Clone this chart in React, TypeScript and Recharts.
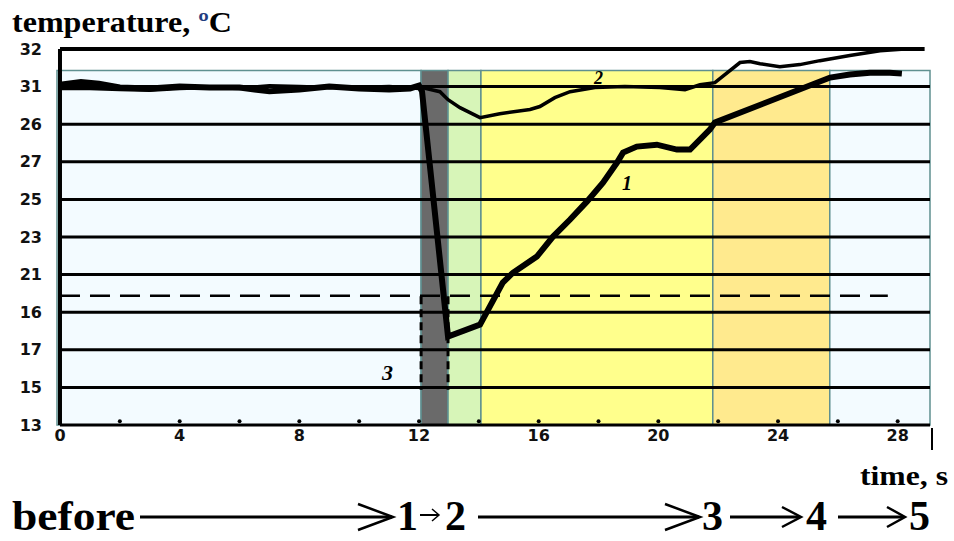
import React from 'react';
import { LineChart, Line, XAxis, YAxis, ReferenceArea, ReferenceLine, ReferenceDot } from 'recharts';

// ---- data ----
const curve1Time = [0, 0.7, 1.3, 2, 3, 4, 5, 6, 7, 8, 9, 10, 11, 11.7, 12.0, 12.1, 12.97, 14.04, 14.8, 15.14, 15.94, 16.48, 17.05, 17.61, 18.15, 18.62, 18.82, 19.28, 19.95, 20.62, 21.06, 21.72, 21.89, 25.74, 26.4, 27.07, 27.74, 28.14];
const curve1Temp = [31.1, 31.25, 31.15, 30.95, 30.9, 31.0, 30.95, 30.95, 30.75, 30.85, 31.0, 30.9, 30.85, 30.9, 31.05, 30.75, 17.7, 18.34, 20.57, 21.1, 21.96, 23.02, 23.93, 24.88, 25.89, 26.96, 27.49, 27.81, 27.91, 27.65, 27.65, 28.71, 29.09, 31.48, 31.64, 31.74, 31.74, 31.69];

const curve2Time = [0, 1, 2, 3, 4, 5, 6, 7, 8, 9, 10, 11, 12.0, 12.1, 12.7, 12.97, 13.37, 14.04, 14.7, 15.71, 16.04, 16.54, 17.05, 17.88, 18.88, 20.05, 20.89, 21.39, 21.89, 22.73, 23.06, 23.4, 24.06, 24.73, 25.4, 26.4, 27.41, 28.24];
const curve2Temp = [30.9, 30.9, 30.85, 30.8, 30.9, 30.95, 30.9, 31.05, 31.0, 30.95, 30.95, 31.0, 30.9, 30.95, 30.73, 30.3, 29.88, 29.35, 29.56, 29.78, 29.94, 30.41, 30.73, 30.95, 31.0, 30.95, 30.84, 31.1, 31.21, 32.28, 32.33, 32.22, 32.06, 32.17, 32.38, 32.65, 32.91, 33.0];

const dashedLevel = 19.88;
const dashedEnd = 27.67;
const curve3X = [12.07, 12.97];
const curve3Y = [19.85, 14.88];

const gridLevels = [15, 17, 19, 21, 23, 25, 27, 29, 31];
const topLevel = 33;
const topLineEnd = 28.9;

const yTicks = [13, 15, 17, 19, 21, 23, 25, 27, 29, 31, 33];
const yTickLabels = ['13', '15', '17', '16', '21', '23', '25', '27', '26', '31', '32'];
const xTicks = [0, 4, 8, 12, 16, 20, 24, 28];
const xDotTicks = [2, 4, 6, 8, 10, 12, 14, 16, 18, 20, 22, 24, 26, 28];

// stage bands: [start, end]
const stageBounds = [12.07, 12.97, 14.07, 21.82, 25.73, 29.08];
const stageColors = ['#6a6a6a', '#d7f5b8', '#ffff8c', '#ffea8e', '#f3fbff'];
const boxTop = 31.85;
const xMin = -0.1;
const xMax = 29.08;

const zip = (t: number[], v: number[]) => t.map((x, i) => ({ t: x, v: v[i] }));
const curve1 = zip(curve1Time, curve1Temp);
const curve2 = zip(curve2Time, curve2Temp);

const teal = '#5f9090';

export default function App() {
  const serif = '"Liberation Serif", "Times New Roman", serif';
  const tickFont = { fill: '#111', fontSize: 16, fontWeight: 700, fontFamily: '"DejaVu Sans", sans-serif' };
  return (
    <div style={{ position: 'absolute', left: 0, top: 0, width: 954, height: 541, background: '#fff' }}>
      <LineChart width={954} height={541} margin={{ top: 49, right: 24, bottom: 86, left: 10 }}>
        <XAxis
          type="number"
          dataKey="t"
          domain={[xMin, xMax]}
          ticks={xTicks}
          allowDataOverflow
          axisLine={false}
          tickLine={false}
          tickSize={0}
          tickMargin={5}
          height={30}
          tick={tickFont}
        />
        <YAxis
          type="number"
          dataKey="v"
          domain={[13, 33]}
          ticks={yTicks}
          allowDataOverflow
          axisLine={false}
          tickLine={false}
          tickSize={0}
          tickMargin={15}
          width={47}
          tickFormatter={(v: number) => yTickLabels[yTicks.indexOf(v)] ?? String(v)}
          tick={tickFont}
        />
        <ReferenceArea x1={xMin} x2={stageBounds[0]} y1={13} y2={boxTop} fill="#f3fbff" fillOpacity={1} stroke={teal} strokeWidth={1.5} />
        {stageColors.map((c, i) => (
          <ReferenceArea key={'s' + i} x1={stageBounds[i]} x2={stageBounds[i + 1]} y1={13} y2={boxTop} fill={c} fillOpacity={1} stroke={teal} strokeWidth={1.5} />
        ))}
        {gridLevels.map((g) => (
          <ReferenceLine key={'g' + g} segment={[{ x: 0, y: g }, { x: xMax, y: g }]} stroke="#000" strokeWidth={3} />
        ))}
        <ReferenceLine segment={[{ x: 0, y: topLevel }, { x: topLineEnd, y: topLevel }]} stroke="#000" strokeWidth={4} />
        <ReferenceLine segment={[{ x: 0, y: 13 }, { x: 0, y: 33 }]} stroke="#000" strokeWidth={4} />
        <ReferenceLine segment={[{ x: 0, y: 13 }, { x: xMax, y: 13 }]} stroke="#000" strokeWidth={3} />
        <ReferenceLine segment={[{ x: 0, y: dashedLevel }, { x: dashedEnd, y: dashedLevel }]} stroke="#000" strokeWidth={2.5} strokeDasharray="20 10" />
        {curve3X.map((x) => (
          <ReferenceLine key={'c3' + x} segment={[{ x, y: curve3Y[0] }, { x, y: curve3Y[1] }]} stroke="#000" strokeWidth={3} strokeDasharray="8 5" />
        ))}
        {xDotTicks.map((t) => (
          <ReferenceDot key={'d' + t} x={t} y={13.2} r={2} fill="#000" stroke="none" />
        ))}
        <Line data={curve2} dataKey="v" type="linear" stroke="#000" strokeWidth={3.5} dot={false} isAnimationActive={false} />
        <Line data={curve1} dataKey="v" type="linear" stroke="#000" strokeWidth={6} dot={false} isAnimationActive={false} />
      </LineChart>
      <svg width={954} height={541} style={{ position: 'absolute', left: 0, top: 0, pointerEvents: 'none' }}>
        <text x={12} y={32} fontFamily={serif} fontWeight={700} fontSize={29} fill="#000" textLength={220} lengthAdjust="spacingAndGlyphs">
          temperature, <tspan fill="#1f3d80">º</tspan>C
        </text>
        <text x={860} y={485} fontFamily={serif} fontWeight={700} fontSize={28} fill="#000" textLength={88} lengthAdjust="spacingAndGlyphs">
          time, s
        </text>
        <line x1={932} y1={428} x2={932} y2={450} stroke="#000" strokeWidth={2} />
        <text x={622} y={190} fontFamily={serif} fontStyle="italic" fontWeight={700} fontSize={20} fill="#000">1</text>
        <text x={594} y={84} fontFamily={serif} fontStyle="italic" fontWeight={700} fontSize={18} fill="#000">2</text>
        <text x={382} y={380} fontFamily={serif} fontStyle="italic" fontWeight={700} fontSize={22} fill="#000">3</text>

        <text x={12} y={530} fontFamily={serif} fontWeight={700} fontSize={42} fill="#000" textLength={123} lengthAdjust="spacingAndGlyphs">before</text>
        <line x1={140} y1={517} x2={392} y2={517} stroke="#000" strokeWidth={3} />
        <polyline points="358,504 393,517 358,530" fill="none" stroke="#000" strokeWidth={2.5} />
        <text x={397} y={530} fontFamily={serif} fontWeight={700} fontSize={42} fill="#000">1</text>
        <line x1={420} y1={515} x2={438} y2={515} stroke="#000" strokeWidth={2} />
        <polyline points="432,509 439,515 432,521" fill="none" stroke="#000" strokeWidth={1.5} />
        <text x={445} y={530} fontFamily={serif} fontWeight={700} fontSize={42} fill="#000">2</text>
        <line x1={478} y1={517} x2={699} y2={517} stroke="#000" strokeWidth={3} />
        <polyline points="665,504 700,517 665,530" fill="none" stroke="#000" strokeWidth={2.5} />
        <text x={702} y={530} fontFamily={serif} fontWeight={700} fontSize={42} fill="#000">3</text>
        <line x1={730} y1={517} x2={800} y2={517} stroke="#000" strokeWidth={3} />
        <polyline points="782,507 801,517 782,527" fill="none" stroke="#000" strokeWidth={2.5} />
        <text x={806} y={530} fontFamily={serif} fontWeight={700} fontSize={42} fill="#000">4</text>
        <line x1={838} y1={517} x2={904} y2={517} stroke="#000" strokeWidth={3} />
        <polyline points="887,507 905,517 887,527" fill="none" stroke="#000" strokeWidth={2.5} />
        <text x={909} y={530} fontFamily={serif} fontWeight={700} fontSize={42} fill="#000">5</text>
      </svg>
    </div>
  );
}
